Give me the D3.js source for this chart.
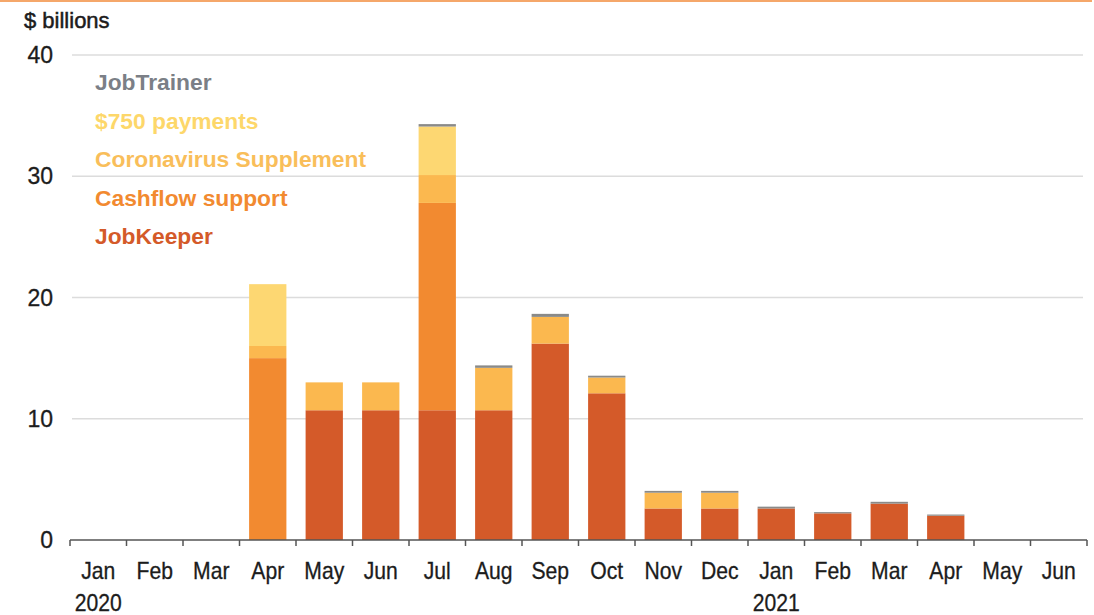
<!DOCTYPE html>
<html><head><meta charset="utf-8">
<script src="https://cdn.jsdelivr.net/npm/d3@7"></script>
<style>
body{margin:0;background:#fff;}
text{font-family:"Liberation Sans",Arial,sans-serif;}
</style></head>
<body><svg id="c" width="1094" height="615"></svg>
<script>
const months = ["Jan","Feb","Mar","Apr","May","Jun","Jul","Aug","Sep","Oct","Nov","Dec","Jan","Feb","Mar","Apr","May","Jun"];
const years = [{i:0,label:"2020"},{i:12,label:"2021"}];
const jobKeeper   = [0,0,0,0,10.7,10.7,10.7,10.7,16.2,12.1,2.6,2.6,2.6,2.2,3.0,2.0,0,0];
const cashflow    = [0,0,0,15.0,0,0,17.1,0,0,0,0,0,0,0,0,0,0,0];
const coronaSupp  = [0,0,0,1.0,2.3,2.3,2.3,3.5,2.2,1.3,1.3,1.3,0,0,0,0,0,0];
const payments750 = [0,0,0,5.1,0,0,4.0,0,0,0,0,0,0,0,0,0,0,0];
const jobTrainer  = [0,0,0,0,0,0,0.2,0.2,0.25,0.15,0.15,0.15,0.15,0.1,0.15,0.1,0,0];
const seriesNames = ["JobKeeper","Cashflow support","Coronavirus Supplement","$750 payments","JobTrainer"];
const yTicks = [0,10,20,30,40];

const colors = {"JobKeeper":"#D45A29","Cashflow support":"#F28A30","Coronavirus Supplement":"#FBB84F","$750 payments":"#FDD772","JobTrainer":"#8A8A88"};
const legendColors = {"JobKeeper":"#D45A29","Cashflow support":"#F28A30","Coronavirus Supplement":"#F9BE5A","$750 payments":"#FDD76A","JobTrainer":"#7B7F86"};

const seriesArr = [jobKeeper,cashflow,coronaSupp,payments750,jobTrainer];
const rows = months.map((m,i)=>{const r={idx:i}; seriesNames.forEach((s,k)=>r[s]=seriesArr[k][i]); return r;});

const svg = d3.select("#c");
const W=1094,H=615;
const m = {left:70,right:7,top:55,bottom:75};
const x = d3.scaleBand().domain(d3.range(months.length)).range([m.left,W-m.right]).paddingInner(0.34).paddingOuter(0.17);
const y = d3.scaleLinear().domain([0,40]).range([H-m.bottom,m.top]);
const txt = "#1c1c1c";

// top orange rule
svg.append("line").attr("x1",0).attr("x2",1092).attr("y1",1).attr("y2",1).attr("stroke","#F5A76A").attr("stroke-width",2);

// gridlines
svg.append("g").selectAll("line").data(yTicks.filter(d=>d>0)).join("line")
  .attr("x1",72).attr("x2",1083).attr("y1",d=>y(d)).attr("y2",d=>y(d))
  .attr("stroke","#dcdcdc").attr("stroke-width",1.5);

// y labels
svg.append("g").selectAll("text").data(yTicks).join("text")
  .attr("x",53).attr("y",d=>y(d)+8).attr("text-anchor","end")
  .attr("font-size",23).attr("fill",txt).attr("stroke",txt).attr("stroke-width",0.3).text(d=>d);
svg.append("text").attr("x",24).attr("y",28).attr("font-size",22).attr("fill",txt)
  .attr("stroke",txt).attr("stroke-width",0.5).text("$ billions");

// bars
const stack = d3.stack().keys(seriesNames)(rows);
svg.append("g").selectAll("g").data(stack).join("g").attr("fill",d=>colors[d.key])
  .selectAll("rect").data(d=>d.filter(p=>p[1]-p[0]>0)).join("rect")
  .attr("x",d=>x(d.data.idx)).attr("width",x.bandwidth())
  .attr("y",d=>y(d[1])).attr("height",d=>y(d[0])-y(d[1]));

// x axis
const step = x.step();
const x0 = m.left;
svg.append("line").attr("x1",x0).attr("x2",W-m.right).attr("y1",y(0)).attr("y2",y(0)).attr("stroke","#555").attr("stroke-width",1.5);
svg.append("g").selectAll("line").data(d3.range(months.length+1)).join("line")
  .attr("x1",i=>x0+i*step).attr("x2",i=>x0+i*step).attr("y1",y(0)).attr("y2",y(0)+6)
  .attr("stroke","#555").attr("stroke-width",1.5);
svg.append("g").selectAll("text").data(months).join("text")
  .attr("transform",(d,i)=>`translate(${x(i)+x.bandwidth()/2},579) scale(0.92,1)`).attr("text-anchor","middle")
  .attr("font-size",23).attr("fill",txt).attr("stroke",txt).attr("stroke-width",0.3).text(d=>d);
svg.append("g").selectAll("text").data(years).join("text")
  .attr("transform",d=>`translate(${x(d.i)+x.bandwidth()/2},611) scale(0.92,1)`).attr("text-anchor","middle")
  .attr("font-size",23).attr("fill",txt).attr("stroke",txt).attr("stroke-width",0.3).text(d=>d.label);

// legend
const legendOrder = ["JobTrainer","$750 payments","Coronavirus Supplement","Cashflow support","JobKeeper"];
svg.append("g").selectAll("text").data(legendOrder).join("text")
  .attr("x",95).attr("y",(d,i)=>90+i*38.5).attr("font-size",22.8).attr("font-weight","bold")
  .attr("fill",d=>legendColors[d]).text(d=>d);
</script></body></html>
